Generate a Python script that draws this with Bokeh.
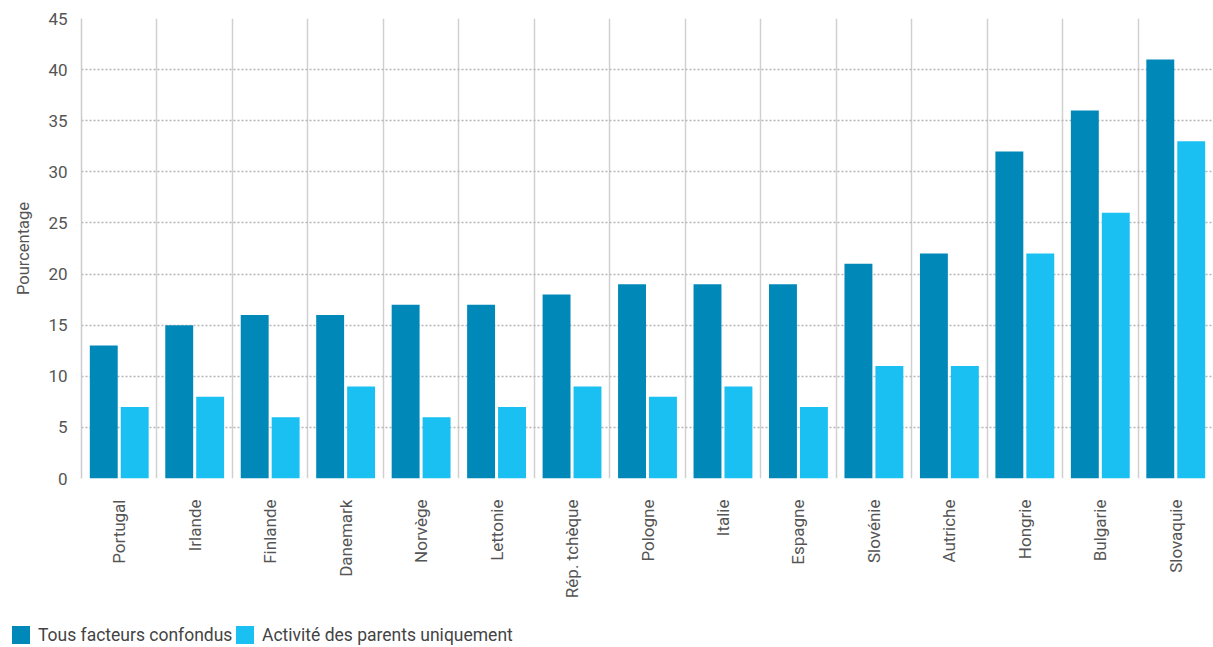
from bokeh.plotting import figure
from bokeh.models import (Range1d, FixedTicker, ColumnDataSource, Div)
from bokeh.layouts import column
from bokeh.transform import dodge
from bokeh.embed import file_html
from bokeh.resources import INLINE
import math

categories = ["Portugal", "Irlande", "Finlande", "Danemark", "Norvège", "Lettonie",
              "Rép. tchèque", "Pologne", "Italie", "Espagne", "Slovénie", "Autriche",
              "Hongrie", "Bulgarie", "Slovaquie"]
tous_facteurs = [13, 15, 16, 16, 17, 17, 18, 19, 19, 19, 21, 22, 32, 36, 41]
activite_parents = [7, 8, 6, 9, 6, 7, 9, 8, 9, 7, 11, 11, 22, 26, 33]
y_ticks = [0, 5, 10, 15, 20, 25, 30, 35, 40, 45]
series_names = ["Tous facteurs confondus", "Activité des parents uniquement"]

DARK = "#0088b9"
LIGHT = "#19c0f1"
FONT = "Roboto"
TXT = "#555555"

n = len(categories)
centers = [i + 0.5 for i in range(n)]

MAIN_H = 607
p = figure(width=1213, height=MAIN_H, output_backend="svg", toolbar_location=None,
           x_range=Range1d(0, n), y_range=Range1d(0, 45),
           min_border_left=81, min_border_right=0, min_border_top=18,
           min_border_bottom=MAIN_H - 478)
p.outline_line_color = None

src = ColumnDataSource(dict(x=centers, a=tous_facteurs, b=activite_parents))
r1 = p.vbar(x=dodge("x", -0.205), top="a", width=0.37, source=src,
            fill_color=DARK, line_color=None)
r2 = p.vbar(x=dodge("x", 0.205), top="b", width=0.37, source=src,
            fill_color=LIGHT, line_color=None)

# axes
p.yaxis.ticker = FixedTicker(ticks=y_ticks)
p.yaxis.axis_line_color = "#cccccc"
p.yaxis.axis_line_width = 1.5
p.yaxis.major_tick_line_color = None
p.yaxis.minor_tick_line_color = None
p.yaxis.major_label_text_font = FONT
p.yaxis.major_label_text_font_size = "17px"
p.yaxis.major_label_text_color = TXT
p.yaxis.major_label_standoff = 8
p.yaxis.axis_label = "Pourcentage"
p.yaxis.axis_label_text_font = FONT
p.yaxis.axis_label_text_font_size = "16.5px"
p.yaxis.axis_label_text_font_style = "normal"
p.yaxis.axis_label_text_color = TXT
p.yaxis.axis_label_standoff = 12

p.xaxis.ticker = FixedTicker(ticks=centers)
p.xaxis.major_label_overrides = {c: lab for c, lab in zip(centers, categories)}
p.xaxis.major_label_orientation = math.pi / 2
p.xaxis.axis_line_color = None
p.xaxis.major_tick_line_color = None
p.xaxis.minor_tick_line_color = None
p.xaxis.major_label_text_font = FONT
p.xaxis.major_label_text_font_size = "17px"
p.xaxis.major_label_text_color = TXT
p.xaxis.major_label_standoff = 15

# grids
p.ygrid.ticker = FixedTicker(ticks=y_ticks)
p.ygrid.grid_line_color = "#b5b5b5"
p.ygrid.grid_line_dash = "2 2"
p.ygrid.grid_line_width = 1.5
p.xgrid.ticker = FixedTicker(ticks=list(range(1, n)))
p.xgrid.grid_line_color = "#d0d0d0"
p.xgrid.grid_line_width = 1.5

# legend strip (HTML)
legend_html = f'''
<div style="position:relative;width:1213px;height:40px;font-family:Roboto,sans-serif;font-size:17.5px;color:#444444;">
  <span style="position:absolute;left:12px;top:19px;width:18px;height:18px;background:{DARK};"></span>
  <span style="position:absolute;left:38px;top:17px;line-height:22px;white-space:nowrap;">{series_names[0]}</span>
  <span style="position:absolute;left:236px;top:19px;width:18px;height:18px;background:{LIGHT};"></span>
  <span style="position:absolute;left:262px;top:17px;line-height:22px;white-space:nowrap;">{series_names[1]}</span>
</div>
'''
lg = Div(text=legend_html, width=1213, height=647 - MAIN_H, margin=0)

open("out.html", "w").write(file_html(column(p, lg, spacing=0), INLINE))
